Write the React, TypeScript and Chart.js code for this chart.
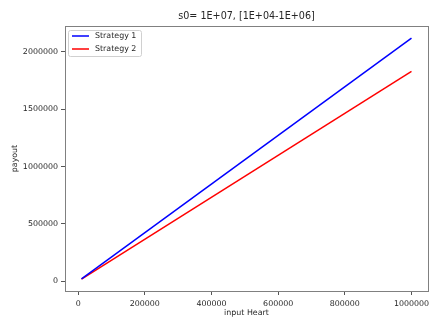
import React, { useEffect, useRef } from "react";
import { Chart, registerables } from "chart.js";

Chart.register(...registerables);

const inputHeart = [10000, 1000000];
const strategy1 = [21200, 2120000];
const strategy2 = [18300, 1830000];
const xTicks = [0, 200000, 400000, 600000, 800000, 1000000];
const yTicks = [0, 500000, 1000000, 1500000, 2000000];
const seriesLabels = ["Strategy 1", "Strategy 2"];
const seriesColors = ["#0000ff", "#ff0000"];
const titleText = "s0= 1E+07, [1E+04-1E+06]";
const xLabel = "input Heart";
const yLabel = "payout";

const FONT = "'DejaVu Sans', sans-serif";
const TEXT = "#262626";

export default function App() {
  const ref = useRef<HTMLCanvasElement | null>(null);

  useEffect(() => {
    document.body.style.margin = "0";
    const canvas = ref.current!;
    const framePlugin = {
      id: "frameLegendTitle",
      afterDraw(chart: any) {
        const { ctx, chartArea } = chart;
        const { left, right, top, bottom } = chartArea;
        ctx.save();
        ctx.strokeStyle = "#808080";
        ctx.lineWidth = 1;
        ctx.strokeRect(Math.round(left) + 0.5, Math.round(top) + 0.5, Math.round(right - left), Math.round(bottom - top));
        ctx.fillStyle = TEXT;
        ctx.font = `9.6px ${FONT}`;
        ctx.textAlign = "center";
        ctx.textBaseline = "alphabetic";
        ctx.fillText(titleText, (left + right) / 2, top - 7);
        const lx = left + 3, ly = top + 4;
        const lw = 73, lh = 26;
        ctx.fillStyle = "rgba(255,255,255,0.8)";
        ctx.strokeStyle = "#d0d0d0";
        ctx.beginPath();
        (ctx as any).roundRect ? (ctx as any).roundRect(lx + 0.5, ly + 0.5, lw, lh, 2) : ctx.rect(lx + 0.5, ly + 0.5, lw, lh);
        ctx.fill();
        ctx.stroke();
        ctx.font = `7.9px ${FONT}`;
        ctx.textAlign = "left";
        ctx.textBaseline = "middle";
        chart.data.datasets.forEach((ds: any, i: number) => {
          const y = ly + 6 + i * 13;
          ctx.strokeStyle = ds.borderColor;
          ctx.lineWidth = 1.5;
          ctx.beginPath();
          ctx.moveTo(lx + 4, y);
          ctx.lineTo(lx + 21, y);
          ctx.stroke();
          ctx.fillStyle = TEXT;
          ctx.fillText(ds.label, lx + 27, y);
        });
        ctx.restore();
      },
    };

    const chart = new Chart(canvas, {
      type: "line",
      data: {
        datasets: seriesLabels.map((label, i) => ({
          label,
          data: inputHeart.map((x, j) => ({ x, y: (i === 0 ? strategy1 : strategy2)[j] })),
          borderColor: seriesColors[i],
          backgroundColor: seriesColors[i],
          borderWidth: 1.5,
          pointRadius: 0,
          tension: 0,
          fill: false,
        })),
      },
      options: {
        responsive: false,
        animation: false,
        events: [],
        layout: { padding: { top: 26, right: 14, left: 10, bottom: 11 } },
        plugins: {
          legend: { display: false },
          title: { display: false },
          tooltip: { enabled: false },
        },
        scales: {
          x: {
            type: "linear",
            min: -39500,
            max: 1049500,
            afterBuildTicks: (s: any) => {
              s.ticks = xTicks.map((v) => ({ value: v }));
            },
            afterFit: (s: any) => {
              s.height = 27;
            },
            grid: { display: true, drawOnChartArea: false, drawTicks: true, tickLength: 4, color: "#555" },
            border: { display: false },
            ticks: {
              color: TEXT,
              font: { family: FONT, size: 7.9 },
              padding: 4,
              maxRotation: 0,
              autoSkip: false,
              callback: (v: any) => String(v),
            },
            title: {
              display: true,
              text: xLabel,
              color: TEXT,
              font: { family: FONT, size: 7.9 },
              padding: { top: 1, bottom: 0 },
            },
          },
          y: {
            type: "linear",
            min: -85000,
            max: 2225000,
            afterBuildTicks: (s: any) => {
              s.ticks = yTicks.map((v) => ({ value: v }));
            },
            afterFit: (s: any) => {
              s.width = 55;
            },
            grid: { display: true, drawOnChartArea: false, drawTicks: true, tickLength: 4, color: "#555" },
            border: { display: false },
            ticks: {
              color: TEXT,
              font: { family: FONT, size: 7.9 },
              padding: 3,
              autoSkip: false,
              callback: (v: any) => String(v),
            },
            title: {
              display: true,
              text: yLabel,
              color: TEXT,
              font: { family: FONT, size: 7.9 },
              padding: { top: 0, bottom: 0 },
            },
          },
        },
      },
      plugins: [framePlugin],
    } as any);
    return () => chart.destroy();
  }, []);

  return <canvas ref={ref} width={442} height={329} style={{ display: "block" }} />;
}
